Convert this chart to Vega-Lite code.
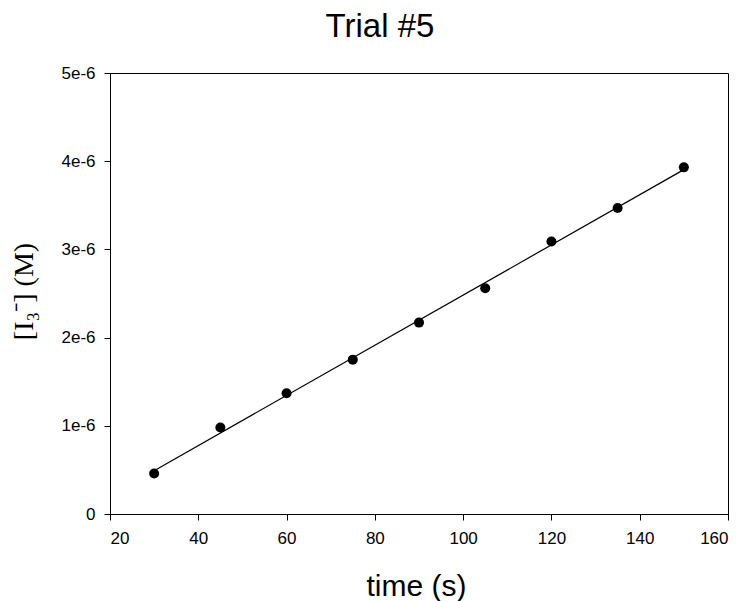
{
  "$schema": "https://vega.github.io/schema/vega-lite/v6.json",
  "width": 618,
  "height": 441,
  "autosize": {"type": "none"},
  "padding": {"left": 110, "top": 73, "right": 15, "bottom": 87},
  "background": "white",
  "title": {
    "text": "Trial #5",
    "fontSize": 33,
    "font": "Liberation Sans",
    "fontWeight": "normal",
    "color": "black",
    "anchor": "middle",
    "frame": "group",
    "dx": -39,
    "dy": 39,
    "offset": 26,
    "baseline": "bottom"
  },
  "config": {
    "view": {"stroke": "black", "strokeWidth": 1},
    "axis": {
      "grid": false,
      "domainColor": "black",
      "tickColor": "black",
      "tickSize": 6,
      "labelFont": "Liberation Sans",
      "labelFontSize": 17,
      "labelColor": "black",
      "titleColor": "black",
      "titleFontWeight": "normal"
    }
  },
  "data": {
    "values": [
      {"time": 30, "conc": 4.6e-7},
      {"time": 45, "conc": 9.8e-7},
      {"time": 60, "conc": 1.37e-6},
      {"time": 75, "conc": 1.75e-6},
      {"time": 90, "conc": 2.17e-6},
      {"time": 105, "conc": 2.56e-6},
      {"time": 120, "conc": 3.09e-6},
      {"time": 135, "conc": 3.47e-6},
      {"time": 150, "conc": 3.93e-6}
    ]
  },
  "encoding": {
    "x": {
      "field": "time",
      "type": "quantitative",
      "scale": {"domain": [20, 160], "nice": false},
      "axis": {
        "values": [20, 40, 60, 80, 100, 120, 140, 160],
        "labelPadding": 10,
        "title": "time (s)",
        "titleFont": "Liberation Sans",
        "titleFontSize": 30,
        "titleX": 306,
        "titleY": 81,
        "titleBaseline": "alphabetic"
      }
    },
    "y": {
      "field": "conc",
      "type": "quantitative",
      "scale": {"domain": [0, 5e-6], "nice": false, "zero": true},
      "axis": {
        "values": [0, 1e-6, 2e-6, 3e-6, 4e-6, 5e-6],
        "labelExpr": "datum.value == 0 ? '0' : format(datum.value, '.0e')",
        "labelPadding": 9,
        "title": "[I₃⁻] (M)",
        "titleFont": "Liberation Serif",
        "titleFontSize": 28,
        "titleAngle": -90,
        "titleX": -86,
        "titleY": 218,
        "titleBaseline": "middle",
        "titleAlign": "center"
      }
    }
  },
  "layer": [
    {
      "transform": [{"regression": "conc", "on": "time"}],
      "mark": {"type": "line", "color": "black", "strokeWidth": 1.2}
    },
    {
      "mark": {"type": "circle", "color": "black", "size": 100, "opacity": 1}
    }
  ]
}
